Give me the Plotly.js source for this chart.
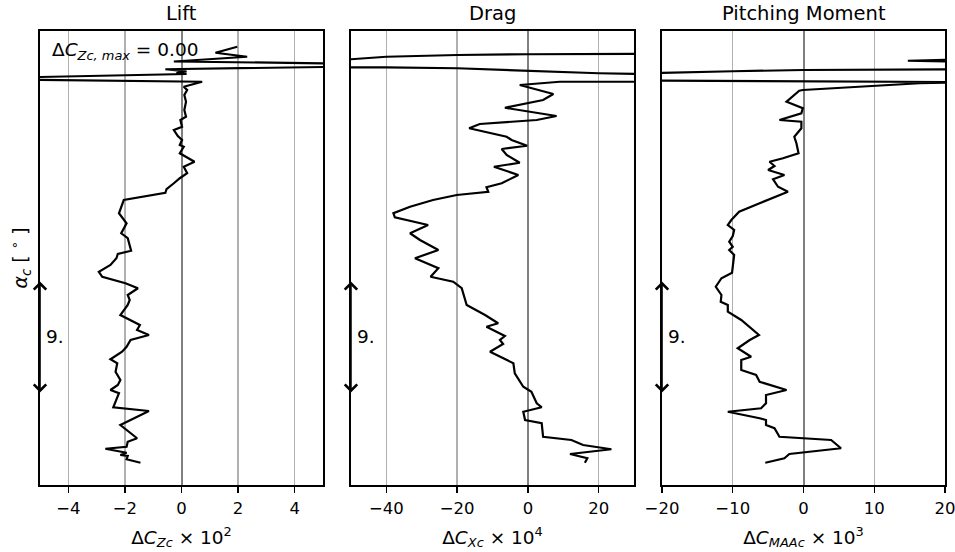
<!DOCTYPE html>
<html>
<head>
<meta charset="utf-8">
<script src="https://cdn.plot.ly/plotly-3.0.1.min.js"></script>
<style>html,body{margin:0;padding:0;background:#fff}#chart{width:955px;height:552px}</style>
</head>
<body>
<div id="chart"></div>
<script>
// ---- data (angle of attack alpha_c in degrees, bottom to top) ----
const panelTitles = ["Lift", "Drag", "Pitching Moment"];

const alphaLift = [-0.22, 0.06, 0.32, 0.40, 0.58, 0.90, 1.06, 1.46, 1.74, 2.80, 3.92, 4.22, 5.34, 5.60, 6.00, 6.40, 7.06, 7.74, 8.06, 8.66, 9.06, 9.60, 10.00, 10.40, 10.80, 11.60, 12.40, 12.80, 13.20, 13.74, 14.14, 14.66, 15.06, 15.60, 16.14, 16.48, 16.74, 17.74, 18.14, 18.94, 19.74, 20.40, 20.80, 21.38, 21.66, 22.14, 22.54, 22.94, 23.46, 23.86, 24.54, 25.06, 25.20, 25.60, 25.92, 26.40, 26.66, 27.20, 27.46, 28.00, 28.66, 29.20, 29.60, 29.86, 30.26, 30.50, 30.88, 30.96, 31.08, 31.26, 31.60, 31.88, 32.26, 32.58, 33.06];
const dCZc = [-1.45, -1.94, -1.90, -2.16, -1.94, -2.69, -1.94, -1.90, -1.57, -2.16, -1.15, -2.41, -2.21, -2.51, -2.25, -2.16, -2.33, -2.27, -2.51, -2.10, -1.94, -1.80, -1.15, -1.57, -1.47, -2.16, -1.90, -1.83, -1.90, -1.54, -1.98, -2.80, -2.92, -2.51, -2.30, -2.25, -1.78, -1.90, -2.13, -1.94, -2.21, -2.10, -2.04, -0.57, -0.53, -0.27, -0.06, 0.20, 0.08, 0.46, -0.06, 0.08, -0.06, 0.02, -0.13, -0.27, 0.02, -0.04, 0.16, 0.10, 0.16, 0.10, 0.20, 0.08, 0.73, -8.0, 0.18, -0.18, 0.18, -0.57, 10.0, -0.27, 2.32, 1.20, 1.97];

const alphaDrag = [-0.22, 0.14, 0.48, 0.86, 1.20, 1.60, 1.86, 2.94, 3.20, 3.86, 4.22, 4.54, 5.46, 5.86, 6.94, 7.74, 8.66, 9.28, 9.60, 9.92, 10.66, 10.94, 11.60, 12.40, 13.74, 14.26, 14.66, 15.34, 16.14, 16.80, 17.60, 18.14, 18.80, 19.42, 19.74, 20.26, 20.80, 21.20, 21.46, 21.82, 22.14, 22.80, 23.46, 23.78, 24.40, 24.88, 25.14, 25.60, 25.86, 26.54, 26.88, 27.20, 27.52, 28.18, 28.80, 29.28, 30.00, 30.26, 30.27, 30.60, 30.94, 31.14, 31.26, 31.34, 31.41, 31.42, 31.76, 32.26, 32.40, 32.46, 32.49];
const dCXc = [16.1, 16.8, 11.9, 23.6, 15.6, 12.3, 4.3, 3.9, -0.8, -1.3, 3.9, 2.5, 1.0, -1.3, -3.7, -4.1, -10.7, -7.0, -7.9, -6.5, -11.7, -8.4, -12.1, -17.3, -18.7, -21.1, -27.5, -25.3, -31.9, -25.3, -30.5, -33.3, -28.2, -37.6, -38.0, -33.3, -26.8, -20.1, -11.2, -11.7, -7.4, -2.7, -9.6, -2.3, -6.0, -7.4, -0.2, -4.6, -6.0, -16.6, -13.6, 2.5, 8.1, -6.5, 4.3, 7.2, -2.3, 9.0, 300, 80, 20, 0, -10, -20, -40, -300, -65, -40, -20, 0, 40];

const alphaMoment = [-0.22, 0.14, 0.48, 0.94, 1.60, 1.86, 2.54, 2.80, 3.20, 3.34, 3.86, 4.14, 4.54, 5.20, 5.60, 6.26, 6.80, 7.20, 8.00, 8.26, 8.94, 9.60, 10.00, 10.94, 11.20, 11.86, 12.40, 12.66, 13.20, 13.86, 14.54, 14.98, 16.40, 16.80, 17.06, 17.46, 17.92, 18.40, 18.80, 19.20, 19.86, 20.54, 21.46, 21.86, 22.46, 22.80, 23.20, 23.52, 23.86, 24.14, 24.54, 25.34, 25.86, 26.54, 27.06, 27.20, 27.74, 28.14, 28.66, 29.54, 29.60, 30.14, 30.23, 30.37, 30.72, 31.10, 31.20, 31.28, 31.84, 31.94, 32.08];
const dCMAAc = [-5.4, -2.7, -2.0, 5.3, 3.9, -3.4, -4.1, -5.3, -5.3, -6.2, -10.7, -6.0, -5.3, -5.3, -2.4, -6.2, -6.7, -8.8, -8.8, -7.4, -9.3, -7.6, -6.3, -8.2, -8.8, -10.7, -10.7, -11.7, -11.6, -12.4, -11.6, -10.1, -9.8, -10.5, -10.0, -10.5, -10.0, -9.8, -10.7, -10.2, -9.1, -6.2, -2.2, -3.6, -4.3, -2.7, -5.0, -4.1, -4.8, -2.9, -0.7, -1.0, -1.3, -0.3, -0.3, -3.4, -0.3, -0.1, -2.4, -0.6, -0.1, 16.4, 24, -30, -40, -10, 0, 30, 25, 14.75, 25];

const xRanges = [[-5, 5], [-50, 30], [-20, 20]];
const xDticks = [2, 20, 10];
const xTitles = ["Δ<i>C</i><sub><i>Zc</i></sub> × 10<sup>2</sup>",
                 "Δ<i>C</i><sub><i>Xc</i></sub> × 10<sup>4</sup>",
                 "Δ<i>C</i><sub><i>MAAc</i></sub> × 10<sup>3</sup>"];
const alphaRange = [-2, 34.32];
const spanLow = 5.4, spanHigh = 14.4, spanLabel = "9.";
const maxLabel = "Δ<i>C</i><sub><i>Zc, max</i></sub> = 0.00";

// ---- build ----
const FONT = "DejaVu Sans, Liberation Sans, sans-serif";
const ids = ["", "2", "3"];
const domains = [[0, 0.3127], [0.3436, 0.6564], [0.6873, 1.0]];
const xs = [dCZc, dCXc, dCMAAc];
const ys = [alphaLift, alphaDrag, alphaMoment];

const traces = ids.map((id, i) => ({
  type: "scatter", mode: "lines",
  x: xs[i], y: ys[i],
  xaxis: "x" + id, yaxis: "y" + id,
  line: {color: "#000000", width: 2.2},
  showlegend: false, hoverinfo: "skip"
}));

const layout = {
  width: 955, height: 552,
  margin: {l: 40, r: 10, t: 31, b: 67},
  paper_bgcolor: "#ffffff", plot_bgcolor: "#ffffff",
  font: {family: FONT, size: 16.5, color: "#000"},
  showlegend: false,
  annotations: []
};

ids.forEach((id, i) => {
  layout["xaxis" + id] = {
    domain: domains[i], anchor: "y" + id,
    range: xRanges[i], tick0: 0, dtick: xDticks[i],
    showgrid: true, gridcolor: "#b0b0b0", gridwidth: 1.4,
    zeroline: true, zerolinecolor: "#808080", zerolinewidth: 2,
    showline: true, mirror: true, linecolor: "#000", linewidth: 1.6,
    ticks: "outside", ticklen: 6, tickwidth: 1.3, tickcolor: "#000",
    ticklabelstandoff: 2, ticklabeloverflow: "allow",
    tickfont: {family: FONT, size: 16.5, color: "#000"},
    title: {text: xTitles[i], font: {family: FONT, size: 18.5, color: "#000"}, standoff: 13},
    automargin: false, fixedrange: true
  };
  layout["yaxis" + id] = {
    domain: [0, 1], anchor: "x" + id,
    range: alphaRange,
    showgrid: false, zeroline: false,
    showline: true, mirror: true, linecolor: "#000", linewidth: 1.6,
    ticks: "", showticklabels: false,
    automargin: false, fixedrange: true,
    title: i === 0 ? {text: "<i>α</i><sub><i>c</i></sub> [ <sup>∘</sup> ]", font: {family: FONT, size: 19, color: "#000"}, standoff: 6} : {text: ""}
  };
  // subplot title
  layout.annotations.push({
    xref: "x" + id + " domain", yref: "paper", x: 0.5, y: 1,
    xanchor: "center", yanchor: "bottom", yshift: 4,
    text: panelTitles[i], showarrow: false,
    font: {family: FONT, size: 19.5, color: "#000"}
  });
  // 9 degree span arrow
  layout.annotations.push({
    xref: "x" + id, yref: "y" + id, axref: "x" + id, ayref: "y" + id,
    x: xRanges[i][0], y: spanLow, ax: xRanges[i][0], ay: spanHigh,
    text: "", showarrow: true, arrowside: "end+start",
    arrowhead: 4, startarrowhead: 4, arrowsize: 1.5, startarrowsize: 1.5,
    arrowwidth: 1.6, arrowcolor: "#000", standoff: 0, startstandoff: 0
  });
  layout.annotations.push({
    xref: "x" + id + " domain", yref: "y" + id,
    x: 0.014, y: (spanLow + spanHigh) / 2,
    xanchor: "left", yanchor: "middle",
    text: spanLabel, showarrow: false,
    font: {family: FONT, size: 18.5, color: "#000"}
  });
});

layout.annotations.push({
  xref: "x domain", yref: "y domain", x: 0.035, y: 0.955,
  xanchor: "left", yanchor: "middle",
  text: maxLabel, showarrow: false,
  font: {family: FONT, size: 18.5, color: "#000"}
});

Plotly.newPlot("chart", traces, layout, {staticPlot: true, displayModeBar: false});
</script>
</body>
</html>
